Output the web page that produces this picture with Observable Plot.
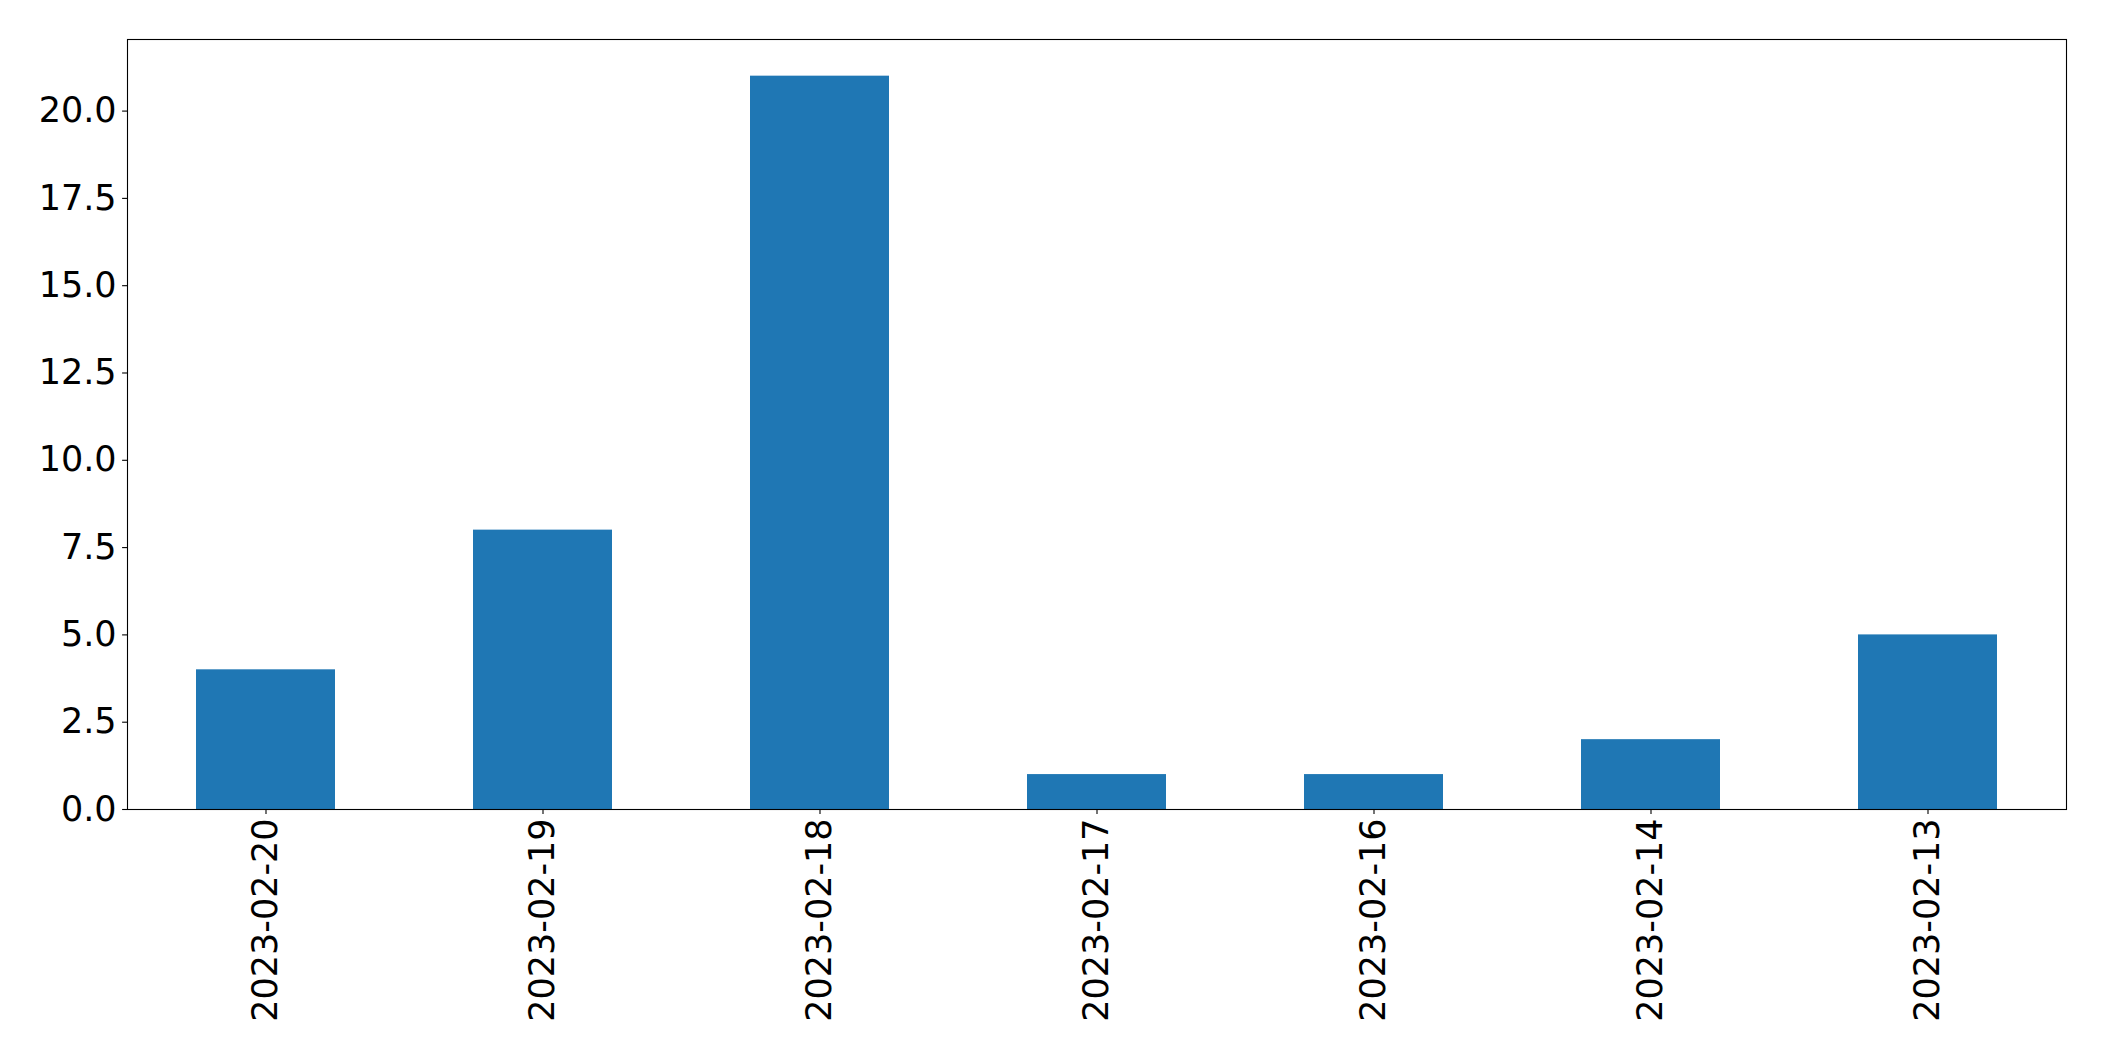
<!DOCTYPE html>
<html>
<head>
<meta charset="utf-8">
<script src="https://cdn.jsdelivr.net/npm/d3@7"></script>
<script src="https://cdn.jsdelivr.net/npm/@observablehq/plot@0.6"></script>
<style>
  html, body { margin: 0; padding: 0; background: white; }
</style>
</head>
<body>
<div id="chart"></div>
<script>
const dates = ["2023-02-20", "2023-02-19", "2023-02-18", "2023-02-17", "2023-02-16", "2023-02-14", "2023-02-13"];
const counts = [4, 8, 21, 1, 1, 2, 5];
const yTicks = [0, 2.5, 5, 7.5, 10, 12.5, 15, 17.5, 20];

const data = dates.map((d, i) => ({date: d, count: counts[i]}));

const chart = Plot.plot({
  width: 2104,
  height: 1061,
  marginLeft: 127,
  marginRight: 38,
  marginTop: 39,
  marginBottom: 252,
  style: {fontFamily: "DejaVu Sans", fontSize: "35px", background: "white", color: "black"},
  x: {domain: dates, paddingInner: 0.5, paddingOuter: 0.25, label: null},
  y: {domain: [0, 21 * 1.05], label: null},
  marks: [
    Plot.barY(data, {x: "date", y: "count", fill: "#1f77b4"}),
    Plot.frame({stroke: "black", strokeWidth: 1.1}),
    Plot.axisY({ticks: yTicks, tickFormat: d3.format(".1f"), tickSize: 4.9, tickPadding: 6, fontSize: 35, label: null, strokeWidth: 1.1}),
    Plot.axisX({tickRotate: -90, tickSize: 4.9, tickPadding: 4, fontSize: 35, label: null, strokeWidth: 1.1})
  ]
});
document.getElementById("chart").appendChild(chart);
</script>
</body>
</html>
